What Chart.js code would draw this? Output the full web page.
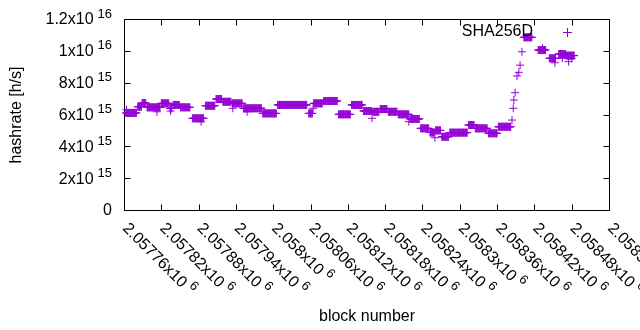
<!DOCTYPE html>
<html><head><meta charset="utf-8">
<script src="https://cdn.jsdelivr.net/npm/chart.js@4/dist/chart.umd.min.js"></script>
<style>html,body{margin:0;padding:0;background:#fff}canvas{display:block}</style>
</head><body>
<canvas id="c" width="640" height="330"></canvas>
<script>
// Piecewise-constant runs of hashrate (block ranges, value in h/s)
const runStartBlock = [2057763,2057782,2057789,2057797,2057820,2057834,2057839,2057851,2057870,2057891,2057908,2057919,2057934,2057952,2057983,2058007,2058057,2058065,2058081,2058105,2058126,2058145,2058160,2058172,2058185,2058201,2058220,2058237,2058252,2058261,2058271,2058284,2058314,2058325,2058346,2058362,2058403,2058426,2058444,2058459,2058471];
const runEndBlock   = [2057780,2057788,2057795,2057818,2057832,2057837,2057849,2057866,2057888,2057906,2057917,2057932,2057950,2057981,2058005,2058054,2058063,2058079,2058103,2058124,2058143,2058158,2058170,2058183,2058199,2058218,2058235,2058250,2058259,2058269,2058282,2058312,2058323,2058344,2058360,2058382,2058416,2058438,2058454,2058470,2058484];
const runHashrate   = [6.10e15,6.49e15,6.72e15,6.45e15,6.70e15,6.39e15,6.60e15,6.45e15,5.76e15,6.55e15,6.97e15,6.80e15,6.70e15,6.39e15,6.07e15,6.60e15,6.07e15,6.70e15,6.85e15,6.01e15,6.60e15,6.22e15,6.17e15,6.34e15,6.17e15,6.01e15,5.72e15,5.13e15,4.87e15,5.00e15,4.60e15,4.86e15,5.34e15,5.13e15,4.82e15,5.23e15,1.085e16,1.005e16,9.53e15,9.80e15,9.70e15];
// Isolated points
const singleBlock    = [2057764,2057813,2057835,2057884,2057935,2057958,2058064,2058159,2058218,2058260,2058384,2058386,2058387,2058389,2058392,2058395,2058397,2058400,2058433,2058453,2058465,2058475,2058480];
const singleHashrate = [6.30e15,6.17e15,6.22e15,5.55e15,6.39e15,6.17e15,6.39e15,5.76e15,5.55e15,4.54e15,5.65e15,6.39e15,6.91e15,7.37e15,8.42e15,8.65e15,9.10e15,9.94e15,1.016e16,9.25e15,9.53e15,9.32e15,9.53e15];

const xTickValues   = [2057760,2057820,2057880,2057940,2058000,2058060,2058120,2058180,2058240,2058300,2058360,2058420,2058480,2058540];
const xTickMantissa = ['2.05776','2.05782','2.05788','2.05794','2.058','2.05806','2.05812','2.05818','2.05824','2.0583','2.05836','2.05842','2.05848','2.05854'];
const xTickExponent = '6';
const yTickValues   = [0,2e15,4e15,6e15,8e15,1e16,1.2e16];
const yTickMantissa = ['0','2x10','4x10','6x10','8x10','1x10','1.2x10'];
const yTickExponent = ['','15','15','15','15','16','16'];
const seriesName = 'SHA256D';
const xTitle = 'block number';
const yTitle = 'hashrate [h/s]';

const points = [];
for (let i = 0; i < runStartBlock.length; i++) {
  for (let b = runStartBlock[i]; b <= runEndBlock[i]; b += 1) points.push({x: b, y: runHashrate[i]});
}
for (let i = 0; i < singleBlock.length; i++) points.push({x: singleBlock[i], y: singleHashrate[i]});

const COLOR = '#9400d3';
const FONT = '"Liberation Sans", Arial, sans-serif';

const gnuplotFrame = {
  id: 'gnuplotFrame',
  beforeDatasetsDraw(chart) {
    const {ctx, chartArea: a, scales: {x, y}} = chart;
    ctx.save();
    ctx.strokeStyle = '#000';
    ctx.lineWidth = 1;
    const L = Math.round(a.left) + 0.5, R = Math.round(a.right) + 0.5;
    const T = Math.round(a.top) + 0.5, B = Math.round(a.bottom) + 0.5;
    ctx.beginPath();
    ctx.rect(L, T, R - L, B - T);
    const tl = 6;
    xTickValues.forEach(v => {
      const px = Math.round(x.getPixelForValue(v)) + 0.5;
      ctx.moveTo(px, B); ctx.lineTo(px, B - tl);
      ctx.moveTo(px, T); ctx.lineTo(px, T + tl);
    });
    yTickValues.forEach(v => {
      const py = Math.round(y.getPixelForValue(v)) + 0.5;
      ctx.moveTo(L, py); ctx.lineTo(L + tl, py);
      ctx.moveTo(R, py); ctx.lineTo(R - tl, py);
    });
    ctx.stroke();
    ctx.restore();
  },
  afterDraw(chart) {
    const {ctx, chartArea: a, scales: {x, y}} = chart;
    ctx.save();
    ctx.fillStyle = '#000';
    const base = '16px ' + FONT, sup = '13px ' + FONT;
    yTickValues.forEach((v, i) => {
      const py = y.getPixelForValue(v);
      ctx.font = base;
      const wb = ctx.measureText(yTickMantissa[i]).width;
      ctx.font = sup;
      const we = yTickExponent[i] ? ctx.measureText(yTickExponent[i]).width : 0;
      const gap = yTickExponent[i] ? 4 : 0;
      const right = a.left - 12;
      const start = right - wb - gap - we;
      ctx.textBaseline = 'middle';
      ctx.textAlign = 'left';
      ctx.font = base;
      ctx.fillText(yTickMantissa[i], start, py + 1);
      if (yTickExponent[i]) {
        ctx.font = sup;
        ctx.fillText(yTickExponent[i], start + wb + gap, py - 5);
      }
    });
    xTickValues.forEach((v, i) => {
      const px = x.getPixelForValue(v);
      ctx.save();
      ctx.translate(px + 1, a.bottom + 16);
      ctx.rotate(Math.PI / 4);
      ctx.textBaseline = 'middle';
      ctx.textAlign = 'left';
      ctx.font = base;
      const wb = ctx.measureText(xTickMantissa[i] + 'x10').width;
      ctx.fillText(xTickMantissa[i] + 'x10', 0, 0);
      ctx.font = sup;
      ctx.fillText(xTickExponent, wb + 4, -6);
      ctx.restore();
    });
    ctx.font = base;
    ctx.textAlign = 'center';
    ctx.textBaseline = 'middle';
    ctx.fillText(xTitle, (a.left + a.right) / 2 + 0.5, 317);
    ctx.save();
    ctx.translate(17, (a.top + a.bottom) / 2 + 0.5);
    ctx.rotate(-Math.PI / 2);
    ctx.fillText(yTitle, 0, 0);
    ctx.restore();
    ctx.textAlign = 'right';
    ctx.fillText(seriesName, 533, 32);
    ctx.strokeStyle = COLOR;
    ctx.lineWidth = 1;
    ctx.beginPath();
    ctx.moveTo(563, 32.5); ctx.lineTo(572, 32.5);
    ctx.moveTo(567.5, 28); ctx.lineTo(567.5, 37);
    ctx.stroke();
    ctx.restore();
  }
};

new Chart(document.getElementById('c'), {
  type: 'scatter',
  data: { datasets: [{
    label: seriesName,
    data: points,
    pointStyle: 'cross',
    pointRadius: 4,
    pointHoverRadius: 4,
    borderColor: COLOR,
    backgroundColor: COLOR,
    borderWidth: 1,
    clip: false
  }]},
  options: {
    responsive: false,
    animation: false,
    devicePixelRatio: 1,
    layout: { padding: { left: 124, right: 31, top: 19, bottom: 120 } },
    plugins: { legend: { display: false }, tooltip: { enabled: false } },
    scales: {
      x: { type: 'linear', min: 2057760, max: 2058540, display: false },
      y: { type: 'linear', min: 0, max: 1.2e16, display: false }
    }
  },
  plugins: [gnuplotFrame]
});
</script>
</body></html>
